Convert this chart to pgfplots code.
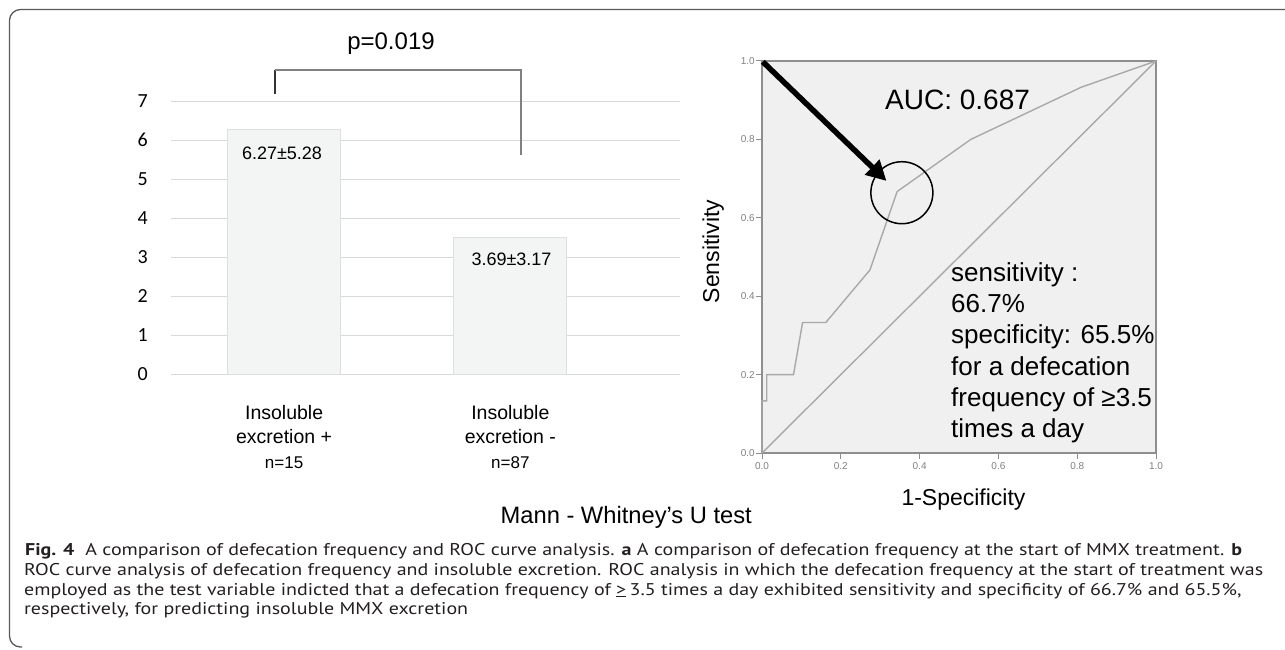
\documentclass[border=0pt]{standalone}
\usepackage{pgfplots}
\pgfplotsset{compat=1.18}
\usepackage{fontspec}
\setmainfont{Liberation Sans}
\newfontfamily\calibri{Carlito}
\newfontfamily\capfont{PT Sans}
\usetikzlibrary{arrows.meta}
\definecolor{gridc}{HTML}{D9D9D9}
\definecolor{barfill}{HTML}{F3F4F4}
\definecolor{baredge}{HTML}{DEE0E0}
\definecolor{rocbg}{HTML}{F0F0F0}
\definecolor{rocaxis}{HTML}{8E8E8E}
\definecolor{rocline}{HTML}{A9A9A9}
\definecolor{tickc}{HTML}{808080}
\definecolor{framec}{HTML}{5A5A5A}
\definecolor{capc}{HTML}{231F20}
\newlength\capw
\newcommand\capone{\textbf{Fig. 4}\hspace{0.55em}A comparison of defecation frequency and ROC curve analysis. \textbf{a} A comparison of defecation frequency at the start of MMX treatment. \textbf{b}}
\begin{document}%
\settowidth\capw{\capfont\fontsize{17}{19.5}\selectfont\capone}%
\pgfmathsetmacro\capscale{1217/(\capw/1pt)}%
\begin{tikzpicture}
\useasboundingbox (0pt,0pt) rectangle (1285pt,-650pt);
% frame
\draw[framec, line width=1.3pt, rounded corners=11pt] (1300pt,-9.5pt) -- (9.5pt,-9.5pt) -- (9.5pt,-647pt) -- (22pt,-647pt);

% ---------- left: bar chart ----------
\begin{axis}[
  at={(171pt,-374pt)}, anchor=south west,
  scale only axis, width=509pt, height=273pt,
  xmin=-0.5, xmax=1.75, ymin=0, ymax=7,
  axis line style={draw=none},
  ytick={0,1,...,7}, xtick={0,1},
  xticklabels={{Insoluble\\excretion +\\\fontsize{17}{24.5}\selectfont n=15},{Insoluble\\excretion -\\\fontsize{17}{24.5}\selectfont n=87}},
  major tick length=0pt,
  ymajorgrids, grid style={gridc, line width=1pt},
  yticklabel style={font=\calibri\fontsize{20}{24}\selectfont, anchor=east, inner sep=0pt, xshift=-23pt},
  xticklabel style={font=\fontsize{19.5}{24.5}\selectfont, align=center, anchor=north, inner sep=0pt, yshift=-31pt},
  clip=false,
  /pgf/number format/assume math mode=true,
]
\addplot[ybar, bar width=113pt, fill=barfill, draw=baredge, line width=1pt] coordinates {(0,6.26) (1,3.51)};
\end{axis}

% bracket and p value
\draw[black!80, line width=1.1pt] (275pt,-94pt) -- (275pt,-70pt);
\draw[gray, line width=1.2pt] (275pt,-70pt) -- (521pt,-70pt) -- (521pt,-155pt);
\node[font=\fontsize{24}{28}\selectfont, anchor=base, inner sep=0pt] at (391pt,-50pt) {p=0.019};
\node[font=\fontsize{18}{22}\selectfont, anchor=base, inner sep=0pt] at (282pt,-160pt) {6.27±5.28};
\node[font=\fontsize{18}{22}\selectfont, anchor=base, inner sep=0pt] at (511.5pt,-265.5pt) {3.69±3.17};
\node[font=\fontsize{23.7}{27}\selectfont, anchor=base east, inner sep=0pt] at (752pt,-523pt) {Mann - Whitney’s U test};

% ---------- right: ROC ----------
\begin{axis}[
  at={(762pt,-453pt)}, anchor=south west,
  scale only axis, width=394pt, height=392pt,
  xmin=0, xmax=1, ymin=0, ymax=1,
  axis background/.style={fill=rocbg},
  axis line style={draw=rocaxis, line width=1.3pt},
  xtick={0,0.2,0.4,0.6,0.8,1}, ytick={0,0.2,0.4,0.6,0.8,1},
  xticklabels={0.0,0.2,0.4,0.6,0.8,1.0},
  yticklabels={0.0,0.2,0.4,0.6,0.8,1.0},
  tick align=outside, xtick pos=left, ytick pos=left,
  major tick length=6pt, tick style={rocaxis, line width=1pt},
  ticklabel style={font=\fontsize{10}{12}\selectfont, text=tickc},
  yticklabel style={inner sep=1pt},
  clip=false,
]
\addplot[rocline, line width=1.4pt] coordinates {(0,0) (1,1)};
\addplot[rocline, line width=1.4pt] coordinates {(0,0) (0,0.133) (0.012,0.133) (0.012,0.2) (0.08,0.2) (0.103,0.333) (0.162,0.333) (0.274,0.467) (0.343,0.667) (0.53,0.8) (0.81,0.933) (1,1)};
\draw[black, line width=1.5pt] (axis cs:0.355,0.664) circle[radius=31pt];
\draw[black, line width=5.5pt, -{Triangle[length=20pt,width=20pt]}] (axis cs:0.002,0.998) -- (axis cs:0.316,0.694);
\end{axis}

\node[font=\fontsize{28}{32}\selectfont, anchor=base west, inner sep=0pt] at (885pt,-110pt) {AUC: 0.687};
\begin{scope}[every node/.style={font=\fontsize{26}{31}\selectfont, anchor=base west, inner sep=0pt}]
\node at (951pt,-281pt) {sensitivity :};
\node at (951pt,-312.3pt) {66.7\%};
\node at (951pt,-343.6pt) {specificity: 65.5\%};
\node at (951pt,-375pt) {for a defecation};
\node at (951pt,-406pt) {frequency of ≥3.5};
\node at (951pt,-437pt) {times a day};
\end{scope}
\node[font=\fontsize{23}{27}\selectfont, anchor=base, inner sep=0pt] at (963.5pt,-505pt) {1-Specificity};
\node[font=\fontsize{23}{27}\selectfont, anchor=base, inner sep=0pt, rotate=90] at (719pt,-251.5pt) {Sensitivity};

% caption
\begin{scope}[every node/.style={font=\capfont\fontsize{17}{19.5}\selectfont, text=capc, anchor=base west, inner sep=0pt}]
\node at (25pt,-555pt) {\scalebox{\capscale}[1]{\capone}};
\node at (24pt,-575pt) {\scalebox{\capscale}[1]{ROC curve analysis of defecation frequency and insoluble excretion. ROC analysis in which the defecation frequency at the start of treatment was}};
\node at (24pt,-595pt) {\scalebox{\capscale}[1]{employed as the test variable indicted that a defecation frequency of \underline{>}\,3.5 times a day exhibited sensitivity and specificity of 66.7\% and 65.5\%,}};
\node at (24pt,-614pt) {\scalebox{\capscale}[1]{respectively, for predicting insoluble MMX excretion}};
\end{scope}
\end{tikzpicture}
\end{document}
